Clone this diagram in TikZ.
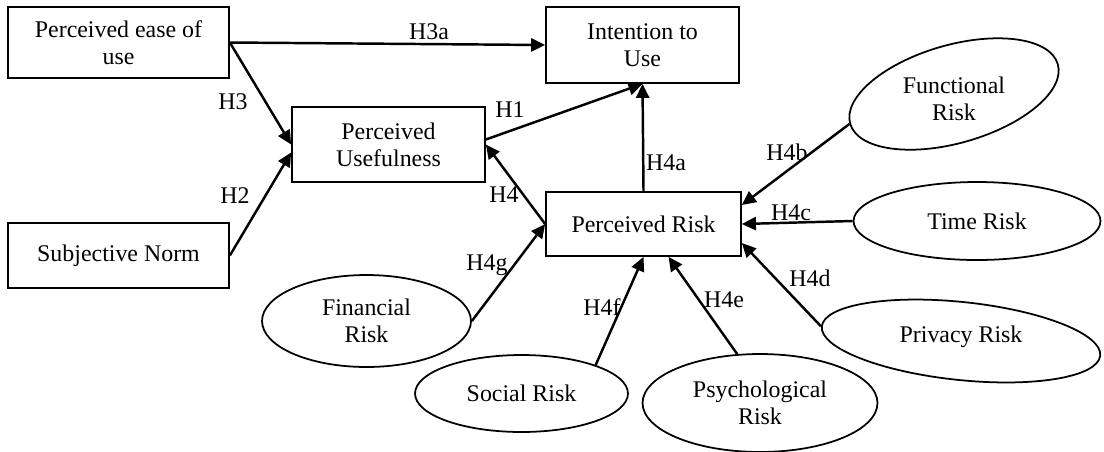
\documentclass[tikz,border=0pt]{standalone}
\usepackage{fontspec}
\setmainfont{Liberation Serif}
\usetikzlibrary{shapes.geometric, arrows.meta, positioning, calc}

\begin{document}
\begin{tikzpicture}[
  x=0.02cm, y=-0.02cm,
  every node/.style={font=\fontsize{13.6}{15.4}\selectfont},
  construct/.style={rectangle, draw, line width=1pt, align=center, inner sep=2pt},
  riskoval/.style={ellipse, draw, line width=1pt, align=center, inner sep=0pt},
  link/.style={-{Triangle[length=8pt,width=7.5pt]}, line width=1.4pt},
  hyp/.style={inner sep=1pt}
]
  \useasboundingbox (0,0) rectangle (1104,451);

  % Constructs (boxes)
  \node[construct, minimum width=4.42cm, minimum height=1.42cm] (peou) at (118.5,42.5) {Perceived ease of\\use};
  \node[construct, minimum width=3.86cm, minimum height=1.52cm] (intent) at (642.5,45) {Intention to\\Use};
  \node[construct, minimum width=3.86cm, minimum height=1.50cm] (pu) at (388.5,144.5) {Perceived\\Usefulness};
  \node[construct, minimum width=4.42cm, minimum height=1.30cm] (sn) at (118.5,255.5) {Subjective Norm};
  \node[construct, minimum width=3.90cm, minimum height=1.28cm] (pr) at (643.5,224) {Perceived Risk};

  % Risk dimensions (ovals)
  \node[riskoval, rotate=16, minimum width=4.32cm, minimum height=1.96cm] (func) at (954,94) {};
  \node[align=center] (functxt) at (954,99) {Functional\\Risk};
  \node[riskoval, minimum width=4.94cm, minimum height=1.56cm] (time) at (977,221) {Time Risk};
  \node[riskoval, rotate=-6, minimum width=5.6cm, minimum height=1.56cm] (priv) at (961,341) {};
  \node (privtxt) at (961,337) {Privacy Risk};
  \node[riskoval, minimum width=4.18cm, minimum height=1.84cm] (fin) at (366.5,321) {Financial\\Risk};
  \node[riskoval, minimum width=4.26cm, minimum height=1.54cm] (soc) at (521.5,393.5) {Social Risk};
  \node[riskoval, minimum width=4.70cm, minimum height=1.96cm] (psy) at (760,403) {Psychological\\Risk};

  % Hypotheses
  \draw[link] (peou.east) -- (intent.west);
  \draw[link] (peou.east) -- (pu.west);
  \draw[link] (sn.east) -- ([yshift=-0.16cm]pu.west);
  \draw[link] ([yshift=0.1cm]pu.east) -- (intent.south);
  \draw[link] (pr.north) -- (intent.south);
  \draw[link] (pr.west) -- (pu.east);
  \draw[link] (fin.east) -- (pr.west);
  \draw[link] (func.west) -- ([yshift=0.38cm]pr.east);
  \draw[link] (time.west) -- (pr.east);
  \draw[link] (priv.west) -- ([yshift=-0.38cm]pr.east);
  \draw[link] (psy.115) -- ([xshift=0.5cm]pr.south);
  \draw[link] (soc.21) -- (pr.south);

  % Labels
  \node[hyp] (h3a) at (429,32) {H3a};
  \node[hyp] (h3) at (233,102) {H3};
  \node[hyp] (h1) at (510,110) {H1};
  \node[hyp] (h2) at (235,196) {H2};
  \node[hyp] (h4) at (504,195) {H4};
  \node[hyp] (h4a) at (666,163) {H4a};
  \node[hyp] (h4b) at (787,152) {H4b};
  \node[hyp] (h4c) at (791,213) {H4c};
  \node[hyp] (h4g) at (487,265) {H4g};
  \node[hyp] (h4d) at (810,278) {H4d};
  \node[hyp] (h4f) at (602,307) {H4f};
  \node[hyp] (h4e) at (724,300) {H4e};
\end{tikzpicture}
\end{document}
